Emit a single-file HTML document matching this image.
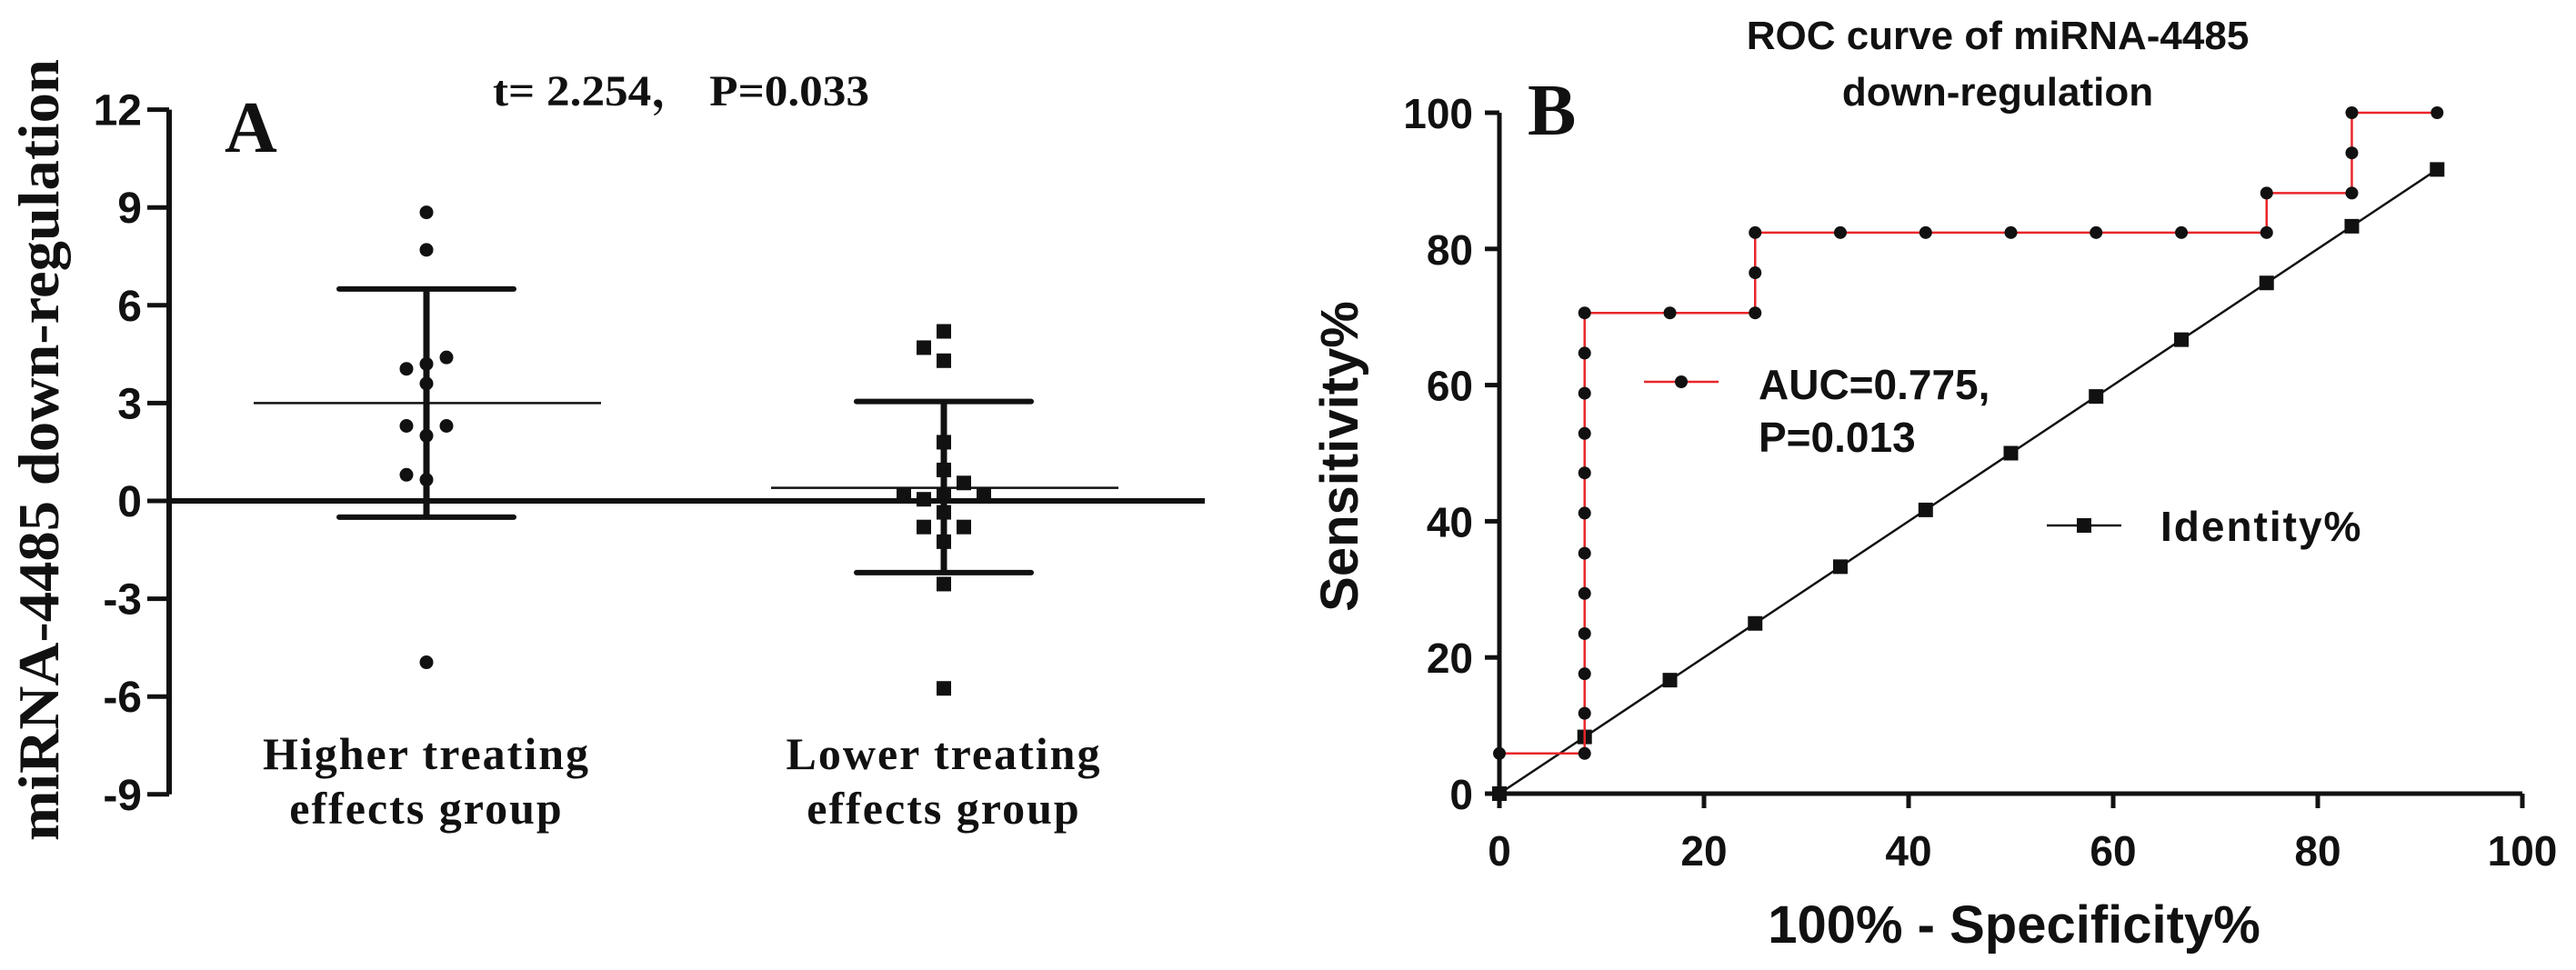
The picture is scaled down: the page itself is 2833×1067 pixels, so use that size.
<!DOCTYPE html>
<html><head><meta charset="utf-8"><style>
html,body{margin:0;padding:0;background:#fff;}
svg{display:block;}
</style></head><body>
<svg id="fig" width="2833" height="1067" viewBox="0 0 2833 1067" xmlns="http://www.w3.org/2000/svg">
<g id="panelA"></g>
<g id="panelB"></g>
</svg>
<script>
// ---- Panel A data ----
const aTicks = [12, 9, 6, 3, 0, -3, -6, -9];
const g1Values = [8.85, 7.7, 4.4, 4.2, 4.05, 3.6, 2.3, 2.3, 2.0, 0.8, 0.65, -4.95];
const g1Offsets = [0, 0, 1, 0, -1, 0, -1, 1, 0, -1, 0, 0];
const g2Values = [5.2, 4.7, 4.3, 1.8, 0.95, 0.55, 0.2, 0.2, 0.2, 0.05, -0.35, -0.8, -0.8, -1.25, -2.55, -5.75];
const g2Offsets = [0, -1, 0, 0, 0, 1, -2, 0, 2, -1, 0, -1, 1, 0, 0, 0];
const groupMeans = [3.0, 0.4];
const groupUpper = [6.5, 3.05];
const groupLower = [-0.5, -2.2];
// ---- Panel B data ----
const rocX = [0, 8.33, 8.33, 8.33, 8.33, 8.33, 8.33, 8.33, 8.33, 8.33, 8.33, 8.33, 8.33, 16.67, 25, 25, 25, 33.33, 41.67, 50, 58.33, 66.67, 75, 75, 83.33, 83.33, 83.33, 91.67];
const rocY = [5.9, 5.9, 11.8, 17.6, 23.5, 29.4, 35.3, 41.2, 47.1, 52.9, 58.8, 64.7, 70.6, 70.6, 70.6, 76.5, 82.4, 82.4, 82.4, 82.4, 82.4, 82.4, 82.4, 88.2, 88.2, 94.1, 100, 100];
const idX = [0, 8.33, 16.67, 25, 33.33, 41.67, 50, 58.33, 66.67, 75, 83.33, 91.67];
const idY = [0, 8.33, 16.67, 25, 33.33, 41.67, 50, 58.33, 66.67, 75, 83.33, 91.67];
const bTicks = [0, 20, 40, 60, 80, 100];

const NS = "http://www.w3.org/2000/svg";
function mk(parent, tag, attrs, text) {
  const e = document.createElementNS(NS, tag);
  for (const k in attrs) e.setAttribute(k, attrs[k]);
  if (text !== undefined) e.textContent = text;
  parent.appendChild(e);
  return e;
}
const ay = v => 551 - v * (107.6 / 3);
const groupX = [469, 1038];
const A = document.getElementById('panelA');
const TIMES = '"Liberation Serif", serif';
const ARIAL = '"Liberation Sans", sans-serif';
let e;
e = mk(A, 'line', {x1: 186, y1: ay(12), x2: 186, y2: ay(-9), stroke: '#111', 'stroke-width': 6});


aTicks.forEach(t => {
  e = mk(A, 'line', {x1: 162, y1: ay(t), x2: 186, y2: ay(t), stroke: '#111', 'stroke-width': 5});
  
  
  e = mk(A, 'text', {x: 156, y: ay(t) + 17, 'text-anchor': 'end', 'font-family': ARIAL, 'font-weight': 'bold', 'font-size': 48, fill: '#111'}, String(t));
  
  
});
e = mk(A, 'line', {x1: 186, y1: ay(0), x2: 1325, y2: ay(0), stroke: '#111', 'stroke-width': 6});


e = mk(A, 'text', {x: 0, y: 0, transform: 'translate(64,495) rotate(-90)', 'text-anchor': 'middle', 'font-family': TIMES, 'font-weight': 'bold', 'font-size': 63, fill: '#111', 'xml:space': 'preserve', textLength: 860, lengthAdjust: 'spacingAndGlyphs'}, 'miRNA-4485  down-regulation');


e = mk(A, 'text', {x: 247, y: 167, 'font-family': TIMES, 'font-weight': 'bold', 'font-size': 80, fill: '#111'}, 'A');


e = mk(A, 'text', {x: 542, y: 116, 'font-family': '"Liberation Serif", "Noto Serif CJK SC", serif', 'font-weight': 'bold', 'font-size': 48, fill: '#111', textLength: 414, lengthAdjust: 'spacingAndGlyphs'}, 't= 2.254， P=0.033');


[0, 1].forEach(i => {
  const cx = groupX[i];
  e = mk(A, 'line', {x1: cx - 190, y1: ay(groupMeans[i]), x2: cx + 192, y2: ay(groupMeans[i]), stroke: '#111', 'stroke-width': 2.5});
  
  
  e = mk(A, 'line', {x1: cx, y1: ay(groupUpper[i]), x2: cx, y2: ay(groupLower[i]), stroke: '#111', 'stroke-width': 7});
  
  
  [groupUpper[i], groupLower[i]].forEach(v => {
    e = mk(A, 'line', {x1: cx - 96, y1: ay(v), x2: cx + 96, y2: ay(v), stroke: '#111', 'stroke-width': 6, 'stroke-linecap': 'round'});
    
    
  });
});
g1Values.forEach((v, i) => {
  e = mk(A, 'circle', {cx: groupX[0] + g1Offsets[i] * 22, cy: ay(v), r: 7.5, fill: '#111'});
  
  
});
g2Values.forEach((v, i) => {
  e = mk(A, 'rect', {x: groupX[1] + g2Offsets[i] * 22 - 8, y: ay(v) - 8, width: 16, height: 16, fill: '#111'});
  
  
});
[['Higher treating', 'effects group', 'higher-group-label'], ['Lower treating', 'effects group', 'lower-group-label']].forEach((l, i) => {
  e = mk(A, 'text', {x: groupX[i], y: 846, 'text-anchor': 'middle', 'font-family': TIMES, 'font-weight': 'bold', 'font-size': 50, 'letter-spacing': 2, fill: '#111'}, l[0]);
  
  
  e = mk(A, 'text', {x: groupX[i], y: 906, 'text-anchor': 'middle', 'font-family': TIMES, 'font-weight': 'bold', 'font-size': 50, 'letter-spacing': 2, fill: '#111'}, l[1]);
  
  
});

const bx = v => 1649 + v * 11.25;
const by = v => 873 - v * 7.49;
const B = document.getElementById('panelB');
e = mk(B, 'line', {x1: bx(0), y1: by(100), x2: bx(0), y2: by(0) + 3, stroke: '#111', 'stroke-width': 5});


e = mk(B, 'line', {x1: bx(0) - 3, y1: by(0), x2: bx(100), y2: by(0), stroke: '#111', 'stroke-width': 5});


bTicks.forEach(t => {
  e = mk(B, 'line', {x1: bx(0) - 16, y1: by(t), x2: bx(0), y2: by(t), stroke: '#111', 'stroke-width': 5});
  
  
  e = mk(B, 'text', {x: 1620, y: by(t) + 17, 'text-anchor': 'end', 'font-family': ARIAL, 'font-weight': 'bold', 'font-size': 46, fill: '#111'}, String(t));
  
  
  e = mk(B, 'line', {x1: bx(t), y1: by(0), x2: bx(t), y2: by(0) + 16, stroke: '#111', 'stroke-width': 5});
  
  
  e = mk(B, 'text', {x: bx(t), y: 952, 'text-anchor': 'middle', 'font-family': ARIAL, 'font-weight': 'bold', 'font-size': 46, fill: '#111'}, String(t));
  
  
});
e = mk(B, 'polyline', {points: idX.map((x, i) => bx(x) + ',' + by(idY[i])).join(' '), fill: 'none', stroke: '#111', 'stroke-width': 2.5});


idX.forEach((x, i) => {
  e = mk(B, 'rect', {x: bx(x) - 8, y: by(idY[i]) - 8, width: 16, height: 16, fill: '#111'});
  
  
});
e = mk(B, 'polyline', {points: rocX.map((x, i) => bx(x) + ',' + by(rocY[i])).join(' '), fill: 'none', stroke: '#e8262a', 'stroke-width': 2.5});


rocX.forEach((x, i) => {
  e = mk(B, 'circle', {cx: bx(x), cy: by(rocY[i]), r: 7, fill: '#111'});
  
  
});
e = mk(B, 'text', {x: 2197, y: 54, 'text-anchor': 'middle', 'font-family': ARIAL, 'font-weight': 'bold', 'font-size': 44, fill: '#111'}, 'ROC curve of miRNA-4485');


e = mk(B, 'text', {x: 2197, y: 116, 'text-anchor': 'middle', 'font-family': ARIAL, 'font-weight': 'bold', 'font-size': 44, fill: '#111'}, 'down-regulation');


e = mk(B, 'text', {x: 1680, y: 148, 'font-family': TIMES, 'font-weight': 'bold', 'font-size': 80, fill: '#111'}, 'B');


e = mk(B, 'text', {x: 2215, y: 1037, 'text-anchor': 'middle', 'font-family': ARIAL, 'font-weight': 'bold', 'font-size': 58, fill: '#111'}, '100%  - Specificity%');


e = mk(B, 'text', {x: 0, y: 0, transform: 'translate(1493,502) rotate(-90)', 'text-anchor': 'middle', 'font-family': ARIAL, 'font-weight': 'bold', 'font-size': 58, fill: '#111'}, 'Sensitivity%');


e = mk(B, 'line', {x1: 1808, y1: 420, x2: 1890, y2: 420, stroke: '#e8262a', 'stroke-width': 2.5});


e = mk(B, 'circle', {cx: 1849, cy: 420, r: 7, fill: '#111'});


e = mk(B, 'text', {x: 1934, y: 439, 'font-family': ARIAL, 'font-weight': 'bold', 'font-size': 46, fill: '#111'}, 'AUC=0.775,');


e = mk(B, 'text', {x: 1934, y: 497, 'font-family': ARIAL, 'font-weight': 'bold', 'font-size': 46, fill: '#111'}, 'P=0.013');


e = mk(B, 'line', {x1: 2251, y1: 578, x2: 2333, y2: 578, stroke: '#111', 'stroke-width': 2.5});


e = mk(B, 'rect', {x: 2284, y: 570, width: 16, height: 16, fill: '#111'});


e = mk(B, 'text', {x: 2376, y: 595, 'font-family': ARIAL, 'font-weight': 'bold', 'font-size': 46, 'letter-spacing': 2, fill: '#111'}, 'Identity%');


</script>
</body></html>
